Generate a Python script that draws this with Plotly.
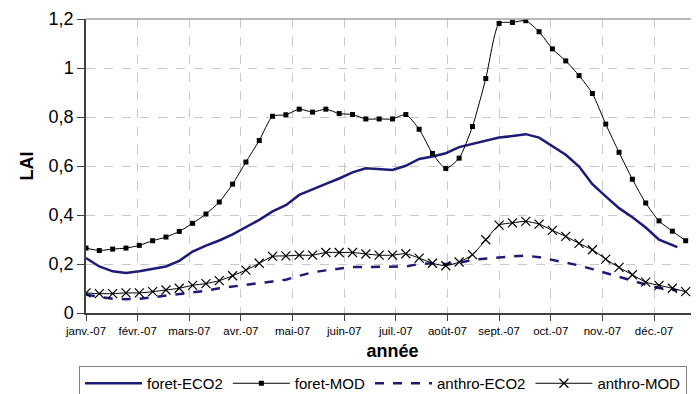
import datetime as dt
import plotly.graph_objects as go

# 8-day composite dates (day offset from 1 Jan 2007)
mod_days = list(range(0, 361, 8))
eco2_days = list(range(0, 353, 8)) + [355]

foret_eco2 = [0.224, 0.19, 0.17, 0.163, 0.17, 0.179, 0.19, 0.213, 0.251, 0.275,
              0.296, 0.321, 0.349, 0.38, 0.415, 0.44, 0.482, 0.506, 0.527, 0.549,
              0.574, 0.591, 0.588, 0.584, 0.601, 0.629, 0.639, 0.652, 0.677, 0.689,
              0.704, 0.716, 0.722, 0.73, 0.716, 0.68, 0.646, 0.598, 0.526, 0.476,
              0.428, 0.391, 0.349, 0.299, 0.279, 0.269]
foret_mod = [0.265, 0.255, 0.261, 0.265, 0.276, 0.295, 0.31, 0.333, 0.366, 0.404,
             0.453, 0.526, 0.616, 0.704, 0.803, 0.809, 0.832, 0.82, 0.832, 0.814,
             0.81, 0.792, 0.792, 0.792, 0.81, 0.75, 0.651, 0.59, 0.632, 0.761,
             0.957, 1.182, 1.186, 1.193, 1.148, 1.078, 1.029, 0.969, 0.896, 0.771,
             0.656, 0.546, 0.449, 0.376, 0.334, 0.295]
anthro_eco2 = [0.075, 0.068, 0.058, 0.056, 0.058, 0.064, 0.071, 0.076, 0.084, 0.091,
               0.101, 0.109, 0.116, 0.122, 0.129, 0.136, 0.152, 0.166, 0.174, 0.182,
               0.188, 0.188, 0.188, 0.188, 0.19, 0.2, 0.203, 0.2, 0.204, 0.217,
               0.223, 0.227, 0.231, 0.234, 0.228, 0.217, 0.207, 0.194, 0.179, 0.163,
               0.147, 0.129, 0.116, 0.102, 0.095, 0.092]
anthro_mod = [0.082, 0.079, 0.079, 0.082, 0.082, 0.087, 0.094, 0.101, 0.113, 0.12,
              0.132, 0.152, 0.175, 0.203, 0.231, 0.233, 0.236, 0.236, 0.247, 0.247,
              0.247, 0.241, 0.236, 0.236, 0.242, 0.224, 0.203, 0.193, 0.208, 0.238,
              0.299, 0.359, 0.368, 0.374, 0.363, 0.337, 0.313, 0.284, 0.258, 0.22,
              0.186, 0.156, 0.126, 0.113, 0.101, 0.087]

month_labels = ["janv.-07", "févr.-07", "mars-07", "avr.-07", "mai-07", "juin-07",
                "juil.-07", "août-07", "sept.-07", "oct.-07", "nov.-07", "déc.-07"]

start = dt.datetime(2007, 1, 1)
x_mod = [start + dt.timedelta(days=d) for d in mod_days]
x_eco2 = [start + dt.timedelta(days=d) for d in eco2_days]
tick_dates = [start + dt.timedelta(days=31 * k) for k in range(len(month_labels))]

NAVY = "#1c1c78"
FONT = "Arial, Liberation Sans, sans-serif"

# the page body has an 8px margin, so the figure is 8px smaller than the window
W, H = 691, 386

fig = go.Figure()
fig.add_trace(go.Scatter(x=x_eco2, y=foret_eco2, name="foret-ECO2", mode="lines",
                         line=dict(color=NAVY, width=2.5)))
fig.add_trace(go.Scatter(x=x_mod, y=foret_mod, name="foret-MOD", mode="lines+markers",
                         line=dict(color="black", width=1, shape="spline", smoothing=0.6),
                         marker=dict(symbol="square", size=5, color="black")))
fig.add_trace(go.Scatter(x=x_eco2, y=anthro_eco2, name="anthro-ECO2", mode="lines",
                         line=dict(color=NAVY, width=2.5, dash="dash")))
fig.add_trace(go.Scatter(x=x_mod, y=anthro_mod, name="anthro-MOD", mode="lines+markers",
                         line=dict(color="black", width=1, shape="spline", smoothing=0.6),
                         marker=dict(symbol="x-thin", size=9, color="black",
                                     line=dict(width=1.2, color="black"))))

fig.update_layout(
    width=W, height=H,
    margin=dict(l=78, r=0, t=11, b=81, autoexpand=False),
    paper_bgcolor="white", plot_bgcolor="white",
    font=dict(family=FONT, color="black"),
    separators=", ",
    showlegend=True,
    legend=dict(orientation="h", xref="container", yref="container",
                x=71 / W, xanchor="left", y=1 - 358 / H, yanchor="top",
                bordercolor="#808080", borderwidth=1, font=dict(size=15),
                itemwidth=57, tracegroupgap=0),
    shapes=[dict(type="line", xref="paper", yref="paper", x0=0, x1=1, y0=1, y1=1,
                 line=dict(color="#a0a0a0", width=1.5))],
)
fig.update_xaxes(
    type="date", range=[start, start + dt.timedelta(days=368)],
    tickvals=tick_dates, ticktext=month_labels, tickfont=dict(size=11.5),
    showline=True, linecolor="#404040", linewidth=1.5,
    ticks="outside", ticklen=6, tickcolor="#404040",
    showgrid=True, gridcolor="#c8c8c8", griddash="dash", gridwidth=1,
    title=dict(text="<b>année</b>", font=dict(size=18), standoff=9),
    zeroline=False, automargin=False,
)
fig.update_yaxes(
    range=[0, 1.2], tickvals=[0, 0.2, 0.4, 0.6, 0.8, 1, 1.2],
    tickformat=".1~f", tickfont=dict(size=18),
    showline=True, linecolor="#404040", linewidth=1.5,
    ticks="outside", ticklen=7, tickcolor="#404040",
    showgrid=True, gridcolor="#c8c8c8", griddash="dash", gridwidth=1,
    title=dict(text="<b>LAI</b>", font=dict(size=18), standoff=10),
    zeroline=False, automargin=False,
)

fig.write_html("out.html")
